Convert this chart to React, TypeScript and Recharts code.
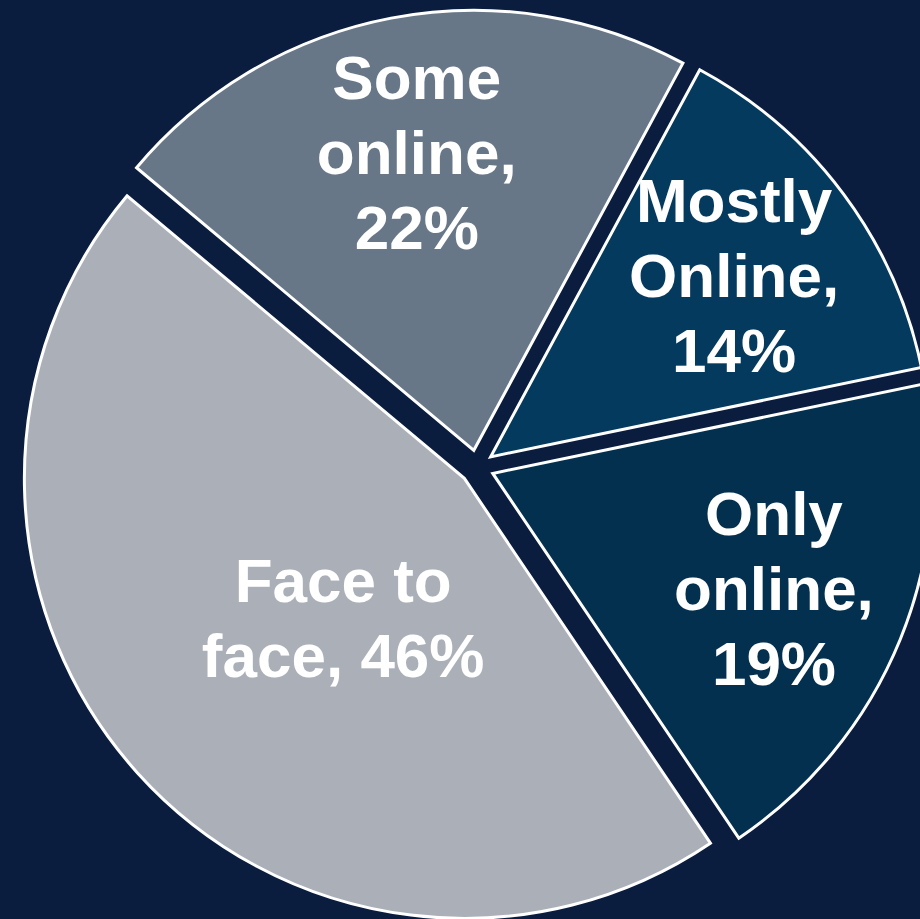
import React from 'react';
import { PieChart, Pie, Cell } from 'recharts';

const categories = ['Only online', 'Mostly Online', 'Some online', 'Face to face'];
const shares = [19, 14, 22, 46];
const labelLines = [
  ['Only', 'online,', '19%'],
  ['Mostly', 'Online,', '14%'],
  ['Some', 'online,', '22%'],
  ['Face to', 'face, 46%'],
];
const sliceColors = ['#03304F', '#043A5E', '#687788', '#ABB0B8'];

const START = -56;
const END = 304;
const EXPLODE = 17;
const RADIAN = Math.PI / 180;

const data = categories.map((name, i) => ({ name, value: shares[i] }));
const total = shares.reduce((a, b) => a + b, 0);

// mid angle of each slice, same rule recharts uses for its sectors
const midAngles = shares.map((v, i) => {
  const before = shares.slice(0, i).reduce((a, b) => a + b, 0);
  return START + ((before + v / 2) / total) * (END - START);
});

const polar = (angle: number, dist: number) => ({
  dx: Math.cos(-angle * RADIAN) * dist,
  dy: Math.sin(-angle * RADIAN) * dist,
});

const FONT = 62;
const LINE = 75;

const renderLabel = (props: any) => {
  const { cx, cy, midAngle, outerRadius, index } = props;
  const big = shares[index] / total > 0.4;
  const ex = polar(midAngle, EXPLODE);
  const p = polar(big ? midAngle + 7 : midAngle, outerRadius * (big ? 0.42 : 0.69));
  const x = cx + ex.dx + p.dx;
  const y = cy + ex.dy + p.dy;
  const lines = labelLines[index];
  return (
    <text
      x={x}
      y={y}
      fill="#ffffff"
      textAnchor="middle"
      fontFamily="'Liberation Sans', Arial, sans-serif"
      fontWeight="bold"
      fontSize={FONT}
    >
      {lines.map((t, i) => (
        <tspan key={i} x={x} y={y + (i - (lines.length - 1) / 2) * LINE + FONT * 0.35}>
          {t}
        </tspan>
      ))}
    </text>
  );
};

export default function App() {
  return (
    <div style={{ width: 920, height: 919, background: '#0A1D3E' }}>
      <style>{'body{margin:0}'}</style>
      <PieChart width={920} height={919} margin={{ top: 0, right: 0, bottom: 0, left: 0 }}>
        <Pie
          data={data}
          dataKey="value"
          nameKey="name"
          cx={477}
          cy={467}
          outerRadius={440}
          startAngle={START}
          endAngle={END}
          label={renderLabel}
          labelLine={false}
          isAnimationActive={false}
        >
          {data.map((d, i) => {
            const o = polar(midAngles[i], EXPLODE);
            return (
              <Cell
                key={d.name}
                fill={sliceColors[i]}
                stroke="#ffffff"
                strokeWidth={3}
                transform={`translate(${o.dx},${o.dy})`}
              />
            );
          })}
        </Pie>
      </PieChart>
    </div>
  );
}
